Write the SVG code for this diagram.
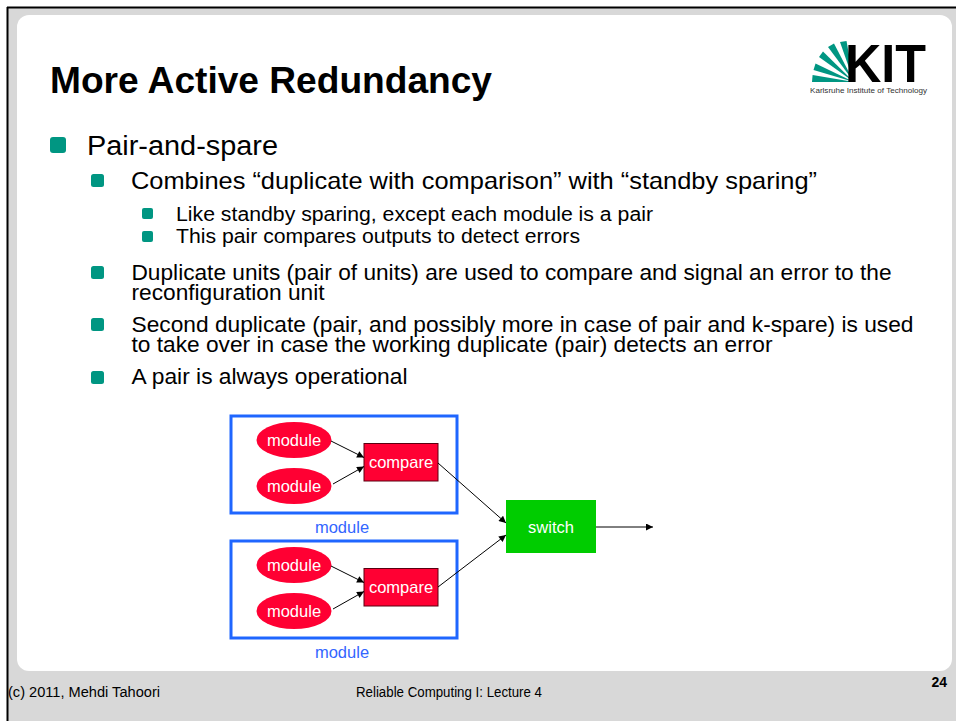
<svg xmlns="http://www.w3.org/2000/svg" width="956" height="721" viewBox="0 0 956 721">
<defs>
<style>
.t{font-family:"Liberation Sans",Arial,sans-serif;fill:#000}
.w{font-family:"Liberation Sans",Arial,sans-serif;fill:#fff;font-size:16.5px;text-anchor:middle}
.bl{font-family:"Liberation Sans",Arial,sans-serif;fill:#3366ff;font-size:16.5px;text-anchor:middle}
.bul{fill:#009682}
.box{fill:none;stroke:#1f66ff;stroke-width:3}
.mod{fill:#ff0033}
.cmp{fill:#ff0033;stroke:#5a0010;stroke-width:1}
.con{stroke:#000;stroke-width:1;fill:none;marker-end:url(#ah)}
</style>
<marker id="ah" viewBox="0 0 10 10" refX="10" refY="5" markerWidth="8" markerHeight="7" markerUnits="userSpaceOnUse" orient="auto">
<path d="M0,0 L10,5 L0,10 z" fill="#000"/>
</marker>
</defs>
<rect x="0" y="0" width="956" height="721" fill="#ffffff"/>
<rect x="8" y="8" width="948" height="713" fill="#d8d8d8"/>
<line x1="7" y1="7.5" x2="956" y2="7.5" stroke="#000" stroke-width="2"/>
<line x1="7.5" y1="7" x2="7.5" y2="721" stroke="#000" stroke-width="2"/>
<rect x="17" y="15" width="935" height="656" rx="12" fill="#ffffff"/>

<text class="t" x="50" y="93" font-size="36" font-weight="bold" textLength="442" lengthAdjust="spacingAndGlyphs">More Active Redundancy</text>

<g id="logo">
<g fill="#009682">
<path d="M854,82 L812,82 L812.6,75 Z"/>
<path d="M854,82 L813.5,70 L815.5,63.5 Z"/>
<path d="M854,82 L819,57 L823,51.5 Z"/>
<path d="M854,82 L828,47 L834,43.5 Z"/>
<path d="M854,82 L840,42 L846.5,41 Z"/>
</g>
<text class="t" x="845" y="82" font-size="53" font-weight="bold" textLength="81" lengthAdjust="spacingAndGlyphs">KIT</text>
<text x="810" y="93" font-family="'Liberation Sans',Arial,sans-serif" font-size="6.6" fill="#333" textLength="117" lengthAdjust="spacingAndGlyphs">Karlsruhe Institute of Technology</text>
</g>

<g id="bullets">
<rect class="bul" x="50" y="137" width="16" height="16" rx="3"/>
<text class="t" x="87" y="155" font-size="27" textLength="191" lengthAdjust="spacingAndGlyphs">Pair-and-spare</text>
<rect class="bul" x="91" y="174" width="13" height="13" rx="2.5"/>
<text class="t" x="131" y="188.5" font-size="24" textLength="686" lengthAdjust="spacingAndGlyphs">Combines “duplicate with comparison” with “standby sparing”</text>
<rect class="bul" x="142" y="208" width="11" height="11" rx="2"/>
<text class="t" x="176" y="220.5" font-size="20" textLength="477" lengthAdjust="spacingAndGlyphs">Like standby sparing, except each module is a pair</text>
<rect class="bul" x="142" y="231" width="11" height="11" rx="2"/>
<text class="t" x="176" y="243" font-size="20" textLength="404" lengthAdjust="spacingAndGlyphs">This pair compares outputs to detect errors</text>
<rect class="bul" x="91" y="266" width="13" height="13" rx="2.5"/>
<text class="t" x="131.5" y="280" font-size="21.5" textLength="760" lengthAdjust="spacingAndGlyphs">Duplicate units (pair of units) are used to compare and signal an error to the</text>
<text class="t" x="131.5" y="300" font-size="21.5" textLength="193" lengthAdjust="spacingAndGlyphs">reconfiguration unit</text>
<rect class="bul" x="91" y="318" width="13" height="13" rx="2.5"/>
<text class="t" x="131.5" y="331.5" font-size="21.5" textLength="782" lengthAdjust="spacingAndGlyphs">Second duplicate (pair, and possibly more in case of pair and k-spare) is used</text>
<text class="t" x="131.5" y="351.5" font-size="21.5" textLength="641" lengthAdjust="spacingAndGlyphs">to take over in case the working duplicate (pair) detects an error</text>
<rect class="bul" x="91" y="371" width="13" height="13" rx="2.5"/>
<text class="t" x="131.5" y="384" font-size="21.5" textLength="276" lengthAdjust="spacingAndGlyphs">A pair is always operational</text>
</g>

<g id="pair1">
<rect class="box" x="231" y="416" width="226" height="97"/>
<text class="bl" x="342" y="533">module</text>
</g>
<g id="pair1-module-a">
<ellipse class="mod" cx="294" cy="440" rx="37.5" ry="18"/>
<text class="w" x="294" y="446">module</text>
</g>
<g id="pair1-module-b">
<ellipse class="mod" cx="294" cy="486" rx="37.5" ry="18"/>
<text class="w" x="294" y="492">module</text>
</g>
<g id="pair1-compare">
<rect class="cmp" x="364" y="443.5" width="74" height="37.5"/>
<text class="w" x="401" y="468">compare</text>
</g>

<g id="pair2">
<rect class="box" x="231" y="541" width="226" height="97"/>
<text class="bl" x="342" y="658">module</text>
</g>
<g id="pair2-module-a">
<ellipse class="mod" cx="294" cy="565" rx="37.5" ry="18"/>
<text class="w" x="294" y="571">module</text>
</g>
<g id="pair2-module-b">
<ellipse class="mod" cx="294" cy="611" rx="37.5" ry="18"/>
<text class="w" x="294" y="617">module</text>
</g>
<g id="pair2-compare">
<rect class="cmp" x="364" y="568.5" width="74" height="37.5"/>
<text class="w" x="401" y="593">compare</text>
</g>

<g id="switch">
<rect x="506" y="500" width="90" height="53" fill="#00cc00"/>
<text class="w" x="551" y="533">switch</text>
</g>

<g id="connectors">
<line class="con" x1="331" y1="441" x2="364" y2="457.5"/>
<line class="con" x1="333" y1="484" x2="364" y2="466.5"/>
<line class="con" x1="331" y1="566" x2="364" y2="582.5"/>
<line class="con" x1="333" y1="609" x2="364" y2="591.5"/>
<line class="con" x1="438" y1="463" x2="506" y2="523"/>
<line class="con" x1="438" y1="587" x2="506" y2="535"/>
<line class="con" x1="596" y1="527" x2="653" y2="527"/>
</g>

<g id="footer">
<text class="t" x="8" y="697" font-size="14" textLength="152" lengthAdjust="spacingAndGlyphs">(c) 2011, Mehdi Tahoori</text>
<text class="t" x="356" y="697" font-size="14" textLength="186" lengthAdjust="spacingAndGlyphs">Reliable Computing I: Lecture 4</text>
<text class="t" x="947" y="687" font-size="14" font-weight="bold" text-anchor="end">24</text>
</g>
</svg>
